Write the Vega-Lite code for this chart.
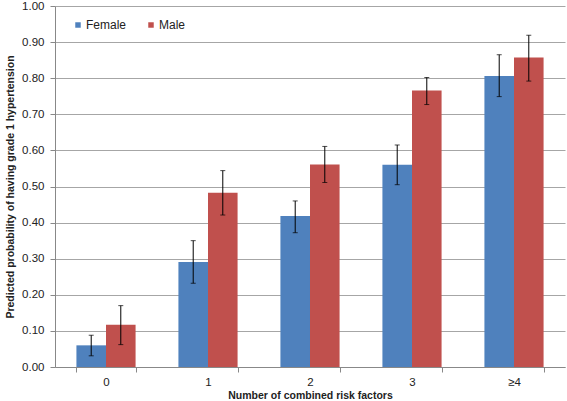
{
  "$schema": "https://vega.github.io/schema/vega-lite/v6.json",
  "width": 510,
  "height": 361,
  "autosize": {"type": "none"},
  "padding": {"left": 55, "top": 6, "right": 2, "bottom": 34},
  "background": "white",
  "config": {
    "font": "Liberation Sans",
    "view": {"stroke": null},
    "axisY": {
      "titleFontWeight": "bold",
      "titleFontSize": 10.5,
      "titleColor": "#222",
      "titlePadding": 6,
      "labelOverlap": false,
      "labelFontSize": 11.5,
      "labelColor": "#222",
      "labelPadding": 6,
      "tickSize": 5,
      "tickColor": "#888",
      "domainColor": "#888",
      "grid": true,
      "gridColor": "#A6A6A6"
    }
  },
  "data": {
    "values": [
      {"cat": "0", "sex": "Female", "value": 0.060, "lo": 0.031, "hi": 0.088},
      {"cat": "0", "sex": "Male", "value": 0.117, "lo": 0.062, "hi": 0.170},
      {"cat": "1", "sex": "Female", "value": 0.291, "lo": 0.232, "hi": 0.350},
      {"cat": "1", "sex": "Male", "value": 0.483, "lo": 0.421, "hi": 0.544},
      {"cat": "2", "sex": "Female", "value": 0.418, "lo": 0.372, "hi": 0.460},
      {"cat": "2", "sex": "Male", "value": 0.561, "lo": 0.511, "hi": 0.611},
      {"cat": "3", "sex": "Female", "value": 0.560, "lo": 0.505, "hi": 0.615},
      {"cat": "3", "sex": "Male", "value": 0.766, "lo": 0.727, "hi": 0.802},
      {"cat": "≥4", "sex": "Female", "value": 0.806, "lo": 0.749, "hi": 0.865},
      {"cat": "≥4", "sex": "Male", "value": 0.857, "lo": 0.792, "hi": 0.919}
    ]
  },
  "encoding": {
    "x": {
      "field": "cat",
      "type": "nominal",
      "sort": ["0", "1", "2", "3", "≥4"],
      "scale": {"paddingInner": 0.42, "paddingOuter": 0.21},
      "axis": {
        "title": "Number of combined risk factors",
        "titleFontWeight": "bold",
        "titleFontSize": 10.5,
        "titleColor": "#222",
        "titlePadding": 3,
        "labelAngle": 0,
        "labelFontSize": 11.5,
        "labelColor": "#222",
        "labelPadding": 4,
        "tickBand": "extent",
        "tickSize": 5,
        "tickColor": "#888",
        "domainColor": "#888",
        "grid": false
      }
    },
    "xOffset": {"field": "sex", "type": "nominal", "sort": ["Female", "Male"], "scale": {"paddingInner": 0}}
  },
  "layer": [
    {
      "mark": {"type": "bar"},
      "encoding": {
        "y": {
          "field": "value",
          "type": "quantitative",
          "scale": {"domain": [0, 1], "nice": false},
          "axis": {
            "title": "Predicted probability of having grade 1 hypertension",
            "values": [0, 0.1, 0.2, 0.3, 0.4, 0.5, 0.6, 0.7, 0.8, 0.9, 1.0],
            "tickCount": 20,
            "format": ".2f"
          }
        },
        "color": {
          "field": "sex",
          "type": "nominal",
          "scale": {"domain": ["Female", "Male"], "range": ["#4F81BD", "#C0504D"]},
          "legend": {
            "title": null,
            "orient": "none",
            "legendX": 17,
            "legendY": 13,
            "direction": "horizontal",
            "symbolType": "square",
            "symbolSize": 30,
            "symbolStrokeWidth": 0,
            "labelFontSize": 12,
            "labelColor": "#222",
            "labelOffset": 2,
            "columnPadding": 18
          }
        }
      }
    },
    {
      "mark": {"type": "rule", "color": "black", "strokeWidth": 1},
      "encoding": {
        "y": {"field": "lo", "type": "quantitative", "axis": {"title": "Predicted probability of having grade 1 hypertension", "values": [0, 0.1, 0.2, 0.3, 0.4, 0.5, 0.6, 0.7, 0.8, 0.9, 1.0], "tickCount": 20, "format": ".2f"}},
        "y2": {"field": "hi"}
      }
    },
    {
      "mark": {"type": "tick", "color": "black", "size": 5, "thickness": 1},
      "encoding": {"y": {"field": "lo", "type": "quantitative", "axis": {"title": "Predicted probability of having grade 1 hypertension", "values": [0, 0.1, 0.2, 0.3, 0.4, 0.5, 0.6, 0.7, 0.8, 0.9, 1.0], "tickCount": 20, "format": ".2f"}}}
    },
    {
      "mark": {"type": "tick", "color": "black", "size": 5, "thickness": 1},
      "encoding": {"y": {"field": "hi", "type": "quantitative", "axis": {"title": "Predicted probability of having grade 1 hypertension", "values": [0, 0.1, 0.2, 0.3, 0.4, 0.5, 0.6, 0.7, 0.8, 0.9, 1.0], "tickCount": 20, "format": ".2f"}}}
    }
  ]
}
